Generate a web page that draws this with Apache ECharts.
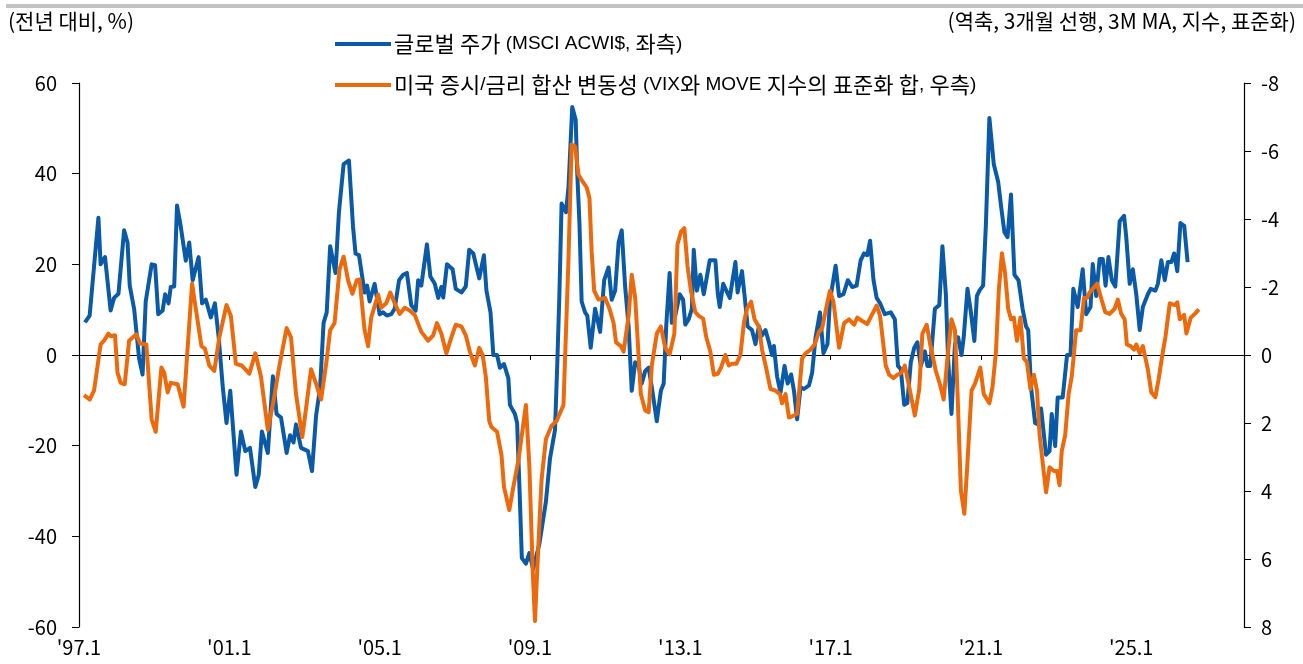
<!DOCTYPE html>
<html>
<head>
<meta charset="utf-8">
<script src="https://cdn.jsdelivr.net/npm/echarts@6/dist/echarts.min.js"></script>
<style>
  html, body { margin: 0; padding: 0; background: #fff; }
  #chart { width: 1303px; height: 664px; }
</style>
</head>
<body>
<div id="chart"></div>
<script>
// x 값은 '97.1 부터의 개월 수
var xTickYears = ["'97.1", "'01.1", "'05.1", "'09.1", "'13.1", "'17.1", "'21.1", "'25.1"];

// 글로벌 주가 (MSCI ACWI$, 전년 대비 %)
var blueMonth = [1.9, 3.4, 6.2, 6.9, 8.3, 10.1, 11.2, 12.6, 14.4, 15.5, 16.2, 17.6, 19.2, 20.3, 21.3, 23.2, 24.3, 25.3, 26.7, 27.5,
  28.6, 29.3, 30.4, 31.3, 32.5, 34.1, 35.2, 36.3, 38.2, 39.3, 40.5, 42.1, 43.4, 44.6, 45.9, 47.1, 48.3, 50.3, 51.7, 53.1,
  54.6, 56.3, 57.4, 58.4, 60.3, 61.9, 63.1, 64.5, 66.3, 67.4, 68.5, 69.3, 70.9, 73.1, 74.4, 75.7, 77, 78.1, 79.1, 80.2,
  81.9, 83, 84.5, 86.2, 87.5, 88.3, 89.4, 91.2, 92, 92.8, 94.4, 96, 97.1, 98.3, 99.7, 100.8, 102.2, 103.5, 104.7, 106.1,
  107.5, 108.3, 109.3, 111.1, 112.2, 113.6, 114.7, 115.7, 116.3, 117.5, 119.3, 120.3, 122.1, 123.5, 124.6, 125.9, 127.8, 129.3, 130.1, 131.4,
  132.3, 133.5, 134.4, 135.7, 137.1, 137.6, 139.2, 139.9, 140.8, 141.4, 142.7, 143.8, 145, 147, 149.1, 150.4, 152, 152.7, 153.4, 154.1,
  155.5, 156.3, 157.5, 158.6, 159.1, 159.8, 160.5, 161.6, 162.3, 163.4, 164.8, 166.4, 167.7, 169.1, 170.1, 171.2, 172.3, 173.3, 174.4, 175.5,
  176.5, 177.6, 178.7, 179.7, 180.8, 181.9, 182.9, 184.5, 185.8, 186.7, 187.5, 188.6, 189.3, 190.4, 191.8, 192.9, 193.6, 194.7, 195.7, 196.3,
  197.3, 198.4, 199.5, 200.3, 201.4, 203.2, 204, 204.6, 205.7, 206.7, 207.8, 209.6, 210.3, 211.7, 212.6, 213.5, 214.9, 216, 217.1, 218.1,
  219.2, 220.3, 221.3, 221.9, 222.9, 224, 225.3, 226.3, 227.4, 228.3, 229.3, 230.4, 231.5, 233.1, 234.1, 235.2, 236.6, 237.7, 239, 239.8,
  241.6, 242.7, 244.1, 245.5, 246.9, 248.3, 249.6, 250.7, 251.7, 252.6, 253.7, 254.7, 255.8, 257.3, 259.2, 260.5, 261.5, 262.4, 263.5, 264.5,
  265.6, 266.7, 267.7, 268.8, 270.1, 270.9, 271.8, 273.3, 274.7, 275.7, 276.8, 277.5, 278.6, 279.7, 280.7, 281.8, 282.5, 283.7, 284.8, 285.9,
  286.7, 287.5, 288.7, 289.6, 290.7, 292.1, 293.5, 294.4, 295.5, 296.5, 297.6, 298.7, 300, 301.3, 302.4, 303.1, 304, 305.3, 306.1, 307.2,
  308.8, 309.9, 310.6, 311.7, 312.5, 314.1, 315.5, 316.6, 317.5, 318.9, 320.5, 321.6, 323, 323.7, 324.8, 325.9, 326.9, 327.8, 328.7, 329.8,
  330.9, 332.3, 333.7, 334.4, 335.5, 336.5, 337.6, 338.7, 339.7, 341.3, 342.2, 343.7, 344.5, 345.6, 346.7, 347.7, 348.8, 349.7, 350.7, 351.7,
  352.9, 354];
var blueValue = [7.2, 8.7, 30.3, 20, 21.6, 9.8, 12.6, 13.5, 27.5, 24.8, 15.3, 10.2, -0.8, -4.3, 11.8, 20, 19.8, 9, 9.8, 13.4,
  11.4, 15, 15.1, 33, 28.3, 20.8, 24.8, 16.5, 21.6, 11.4, 12.2, 8.3, 11.4, 3.9, -7, -15, -7.9, -26.4, -16.9, -21.2,
  -20.5, -29.1, -26.4, -16.9, -21.6, -4.7, -13, -13.8, -21.6, -17.7, -19.3, -15.3, -20.5, -21.2, -25.6, -13.4, -7.1, 7.1, 9.4, 24,
  18.1, 31.5, 42.1, 42.9, 28.3, 22.4, 22, 13.8, 15.3, 11.8, 15.7, 9, 9.4, 8.7, 9, 10.2, 16.5, 17.7, 18.1, 11,
  9.8, 16.5, 15.3, 24.4, 17.3, 15.7, 12.6, 15, 12.7, 20, 18.9, 14.6, 13.8, 15.1, 23.2, 22.4, 16.9, 22, 14.2, 9.4,
  0, 0, -2.8, -2, -5.1, -11, -13, -15, -32.3, -44.8, -46, -43.7, -47.2, -41.7, -32.3, -22.8, -16.5, -2.4, 13.4, 33.4,
  31.5, 37, 54.7, 51.9, 40.1, 29.1, 11.8, 9.4, 8.7, 1.6, 10.2, 5.1, 16.5, 19.3, 12.2, 14.2, 24.8, 27.5, 15, 6.3,
  -7.9, -1.6, -2.4, -6.3, -3.5, -2.8, -7.1, -14.6, -7.9, -6.3, 6.3, 18.1, 7.1, 8.7, 13.4, 12.2, 6.7, 7.9, 10.2, 23.2,
  14.2, 17.7, 13.4, 16.5, 20.9, 20.9, 13.4, 10.6, 15.7, 14.2, 12.6, 20.5, 13.8, 18.5, 12.6, 6.3, 5.5, 2.4, 6.3, 4.3,
  5.5, 2.8, 0, 2, -4.7, -8.3, -2.4, -6.3, -4.3, -7.9, -14.2, -7.1, -7.5, -6.7, -3.9, 3.9, 9.4, 0.4, 2.4, 12,
  19.7, 13, 13.4, 16.5, 15, 15.3, 20.9, 22.4, 22, 25.2, 16.5, 12.6, 11.4, 9, 9.4, 7.9, -2.4, -3.1, -11, -10.6,
  -1.6, 1.6, 2.8, -2.4, 0.8, -2.4, -2.4, 10.2, 11, 24, 13.4, -0.8, -13, 2.4, 3.9, 0, 3.9, 14.6, 9.4, 3.1,
  13, 14.2, 15.3, 29.1, 52.3, 42.1, 38.2, 33, 27.1, 26, 35.4, 17.7, 16.5, 10.2, 6.3, 5.5, -7.1, -15, -15.3, -11.8,
  -22, -21.2, -13, -20.1, -9.4, -9.4, 0, 0, 14.6, 10.6, 18.9, 9, 10.6, 20.1, 13, 21.2, 21.2, 15.3, 21.6, 16.5,
  15.1, 29.5, 30.7, 26, 15.7, 18.9, 13.4, 5.5, 10.6, 13.4, 14.6, 14.2, 15.7, 20.9, 16.5, 20.5, 20.5, 22.4, 18.5, 29.1,
  28.5, 20.5];

// 미국 증시/금리 합산 변동성 (VIX와 MOVE 지수의 표준화 합, 역축)
var orangeMonth = [1.6, 3.4, 4.8, 6.9, 8, 9.4, 10.1, 11.5, 12.3, 13.3, 14.6, 16, 18.3, 19.5, 21.5, 23.2, 24.5, 26.3, 27.2, 28.3,
  29.3, 31.5, 33.4, 36.1, 37.3, 39.1, 40.2, 41.6, 43.2, 44.8, 47.1, 48.5, 50.1, 52, 54.4, 56.3, 58.1, 60.3, 62.1, 64,
  66.3, 67.7, 69.3, 71.3, 72.5, 74.1, 75.7, 77.3, 79, 80.2, 81.6, 83.2, 84.5, 85.9, 87.3, 88.7, 89.6, 91.2, 92.3, 93.3,
  95.5, 96.5, 98.1, 99.4, 100.8, 102.4, 104, 105.6, 107.2, 109.3, 111.5, 113.1, 114.3, 115.7, 117.3, 118.9, 120.3, 122.1, 123.5, 124.8,
  126.4, 127.8, 128.9, 129.9, 131, 131.7, 133.5, 134.9, 135.7, 137.4, 138.7, 140.3, 142.7, 143.8, 144.9, 145.6, 146.7, 147.7, 149.1, 150.9,
  152.5, 154.7, 156.3, 157.3, 158.4, 159.5, 160.9, 162.1, 163, 163.7, 164.5, 165.9, 168, 169.4, 170.7, 171.5, 173, 173.9, 175.5, 176.5,
  177.6, 178.7, 179.4, 180.8, 181.9, 182.9, 184.5, 185.8, 187.2, 188.6, 190.1, 191.1, 192.2, 193.3, 194.3, 195.4, 196.8, 197.9, 199.3, 200.3,
  201.6, 202.7, 204, 205, 206.4, 207.5, 208.5, 209.9, 211.2, 212.3, 213.3, 214.6, 215.7, 217.1, 218.1, 219.5, 220.8, 222.4, 223.8, 224.5,
  225.6, 226.7, 228.3, 229.3, 230.9, 232, 233.6, 234.9, 236.3, 237.3, 238.4, 239.8, 240.9, 242.7, 244.3, 245.9, 247.5, 248.5, 250.1, 251.7,
  253, 254.7, 255.8, 257.6, 258.7, 260.1, 261.3, 262.6, 263.7, 265.1, 266.9, 268.3, 269.3, 270.7, 271.8, 273.6, 275, 276.1, 277.3, 278.6,
  279.7, 280.5, 281.6, 282.7, 283.7, 285, 286.1, 287.8, 288.9, 290.7, 291.7, 292.8, 293.7, 294.7, 295.7, 296.7, 297.6, 298.5, 299.5, 300.6,
  301.7, 302.7, 303.8, 304.9, 305.9, 306.7, 307.7, 308.8, 309.9, 311.3, 312.3, 313.1, 313.8, 314.9, 316, 317, 318.4, 319.8, 320.9, 321.9,
  322.7, 324.1, 325.1, 326.2, 327.7, 329.1, 330.7, 331.7, 332.8, 333.9, 334.6, 335.8, 336.9, 337.6, 338.7, 339.7, 341.3, 342.4, 343.7, 344.7,
  346.1, 346.9, 348.3, 348.8, 349.9, 350.7, 351.5, 352.9, 353.6, 355, 356.3, 357.6];
var orangeValue = [1.18, 1.31, 1.05, -0.31, -0.42, -0.63, -0.55, -0.58, 0.52, 0.82, 0.86, -0.42, -0.61, -0.34, -0.31, 1.89, 2.26, 0.37, 0.52, 1.1,
  0.82, 0.86, 1.52, -2.1, -1.36, -0.26, -0.19, 0.31, 0.47, -0.52, -1.47, -1.15, 0.26, 0.31, 0.55, -0.05, 0.63, 2.2, 1.36, 0.31,
  -0.79, -0.52, 1.15, 2.41, 1.57, 0.42, 0.84, 1.31, 0.21, -0.73, -0.94, -2.52, -2.89, -2.2, -1.8, -2.2, -2.22, -0.73, -0.26, -1.1,
  -1.78, -1.39, -1.52, -1.84, -1.52, -1.21, -1.39, -1.31, -1.18, -0.68, -0.42, -0.58, -0.94, -0.63, -0.05, -0.52, -0.89, -0.84, -0.58, -0.1,
  0.31, -0.21, 0, 0.63, 1.94, 2.12, 2.26, 2.94, 3.88, 4.56, 3.88, 3.1, 1.47, 3.25, 6.4, 7.82, 5.56, 3.67, 2.47, 2.08,
  1.94, 1.47, -2.83, -6.19, -6.14, -5.3, -5.09, -4.93, -4.62, -3.04, -1.89, -1.63, -1.68, -1.36, -0.94, -0.37, -0.26, -0.1, -1.15, -2.36,
  -1.68, 0.05, 1.15, 1.63, 1.68, 0.31, -0.63, -0.84, -0.21, -0.02, -0.63, -3.25, -3.62, -3.73, -2.62, -1.89, -1.26, -1.15, -1.07, -0.52,
  -0.1, 0.58, 0.55, 0.37, 0, 0.31, 0.26, 0.26, 0, -0.94, -1.36, -1.57, -1.05, -0.84, -0.16, 0.42, 1, 1.05, 1.15, 1.42,
  1.15, 1.84, 1.78, 1.73, 0.1, -0.05, -0.16, -0.31, -0.68, -0.79, -1.3, -1.89, -1.57, -0.21, -0.94, -1.05, -0.89, -1.1, -1, -0.91,
  -1.15, -1.45, -1.15, 0.31, 0.58, 0.68, 0.58, 0.52, 0.31, 0.94, 1.78, 1, -0.63, -0.89, -0.31, 0.47, 0.89, 1.31, 0.1, -1.05,
  -0.73, 1.05, 3.99, 4.67, 3.15, 1.05, 0.84, 0.37, 1.15, 1.42, 0.94, -0.1, -1.89, -2.99, -2.41, -1.36, -1.05, -1.1, -0.42, -1.1,
  0.1, 0.21, 1, 0.58, 1.05, 2.31, 3.15, 4.04, 3.3, 3.41, 3.41, 3.83, 2.83, 2.36, 1.15, 0.63, -0.73, -0.73, -1.68, -1.68,
  -1.84, -1.99, -2.1, -1.73, -1.26, -1.21, -1.36, -1.63, -1.21, -1.05, -0.31, -0.26, -0.16, -0.31, -0.05, -0.26, 0.42, 1.1, 1.24, 0.73,
  -0.1, -0.52, -1.52, -1.57, -1.47, -1.55, -1.05, -1.18, -0.63, -1.1, -1.21, -1.34];

var leftTicks = [-60, 60, 20];
var rightTicks = [-8, 8, 2];

var BLUE = '#0a5aa8';
var ORANGE = '#ec6a0c';
var FONT = "'Liberation Sans Narrow', 'Noto Sans CJK KR', sans-serif";
var LATIN = "'Liberation Sans', Arial, sans-serif";
var HANGUL = "'Noto Sans CJK KR', sans-serif";

function pairs(xs, ys) {
  return xs.map(function (x, i) { return [x, ys[i]]; });
}

// 범례: 한글은 크게, 영문은 좁게 (원본 글꼴 폭 맞추기)
function legendText(name) {
  return name.replace(/([가-힣]+)/g, '{k|$1}');
}

var chart = echarts.init(document.getElementById('chart'));

var option = {
  animation: false,
  backgroundColor: '#fff',
  textStyle: { fontFamily: FONT, color: '#000' },
  grid: { left: 79, right: 59, top: 83, bottom: 37 },
  graphic: [
    { type: 'rect', left: 6, top: 4, shape: { width: 1297, height: 4 }, style: { fill: '#c3c3c3' } },
    { type: 'text', left: 8, top: 11, style: { text: '(전년 대비, %)', font: '21px ' + FONT, fill: '#000' } },
    { type: 'text', right: 7, top: 11, style: { text: '(역축, 3개월 선행, 3M MA, 지수, 표준화)', font: '21px ' + FONT, fill: '#000' } }
  ],
  legend: {
    orient: 'vertical',
    left: 330,
    top: 28,
    itemWidth: 56,
    itemHeight: 4,
    itemGap: 19,
    icon: 'rect',
    formatter: legendText,
    textStyle: {
      fontFamily: LATIN, fontSize: 19, color: '#000', padding: [0, 0, 0, -2],
      rich: { k: { fontFamily: HANGUL, fontSize: 22, color: '#000' } }
    },
    data: ['글로벌 주가 (MSCI ACWI$, 좌측)', '미국 증시/금리 합산 변동성 (VIX와 MOVE 지수의 표준화 합, 우측)']
  },
  xAxis: [
    {
      type: 'value', min: 0, max: 372, interval: 48,
      axisLine: { onZero: true, lineStyle: { color: '#000', width: 1.2 } },
      axisTick: { show: true, length: 5, lineStyle: { color: '#000' } },
      axisLabel: { show: false },
      splitLine: { show: false }
    },
    {
      type: 'value', min: 0, max: 372, interval: 48, position: 'bottom',
      axisLine: { show: false, onZero: false },
      axisTick: { show: false },
      axisLabel: {
        margin: 10, fontSize: 20, color: '#000', fontFamily: FONT,
        formatter: function (v) { return xTickYears[Math.round(v / 48)] || ''; }
      },
      splitLine: { show: false }
    }
  ],
  yAxis: [
    {
      type: 'value', min: leftTicks[0], max: leftTicks[1], interval: leftTicks[2], position: 'left',
      axisLine: { show: true, lineStyle: { color: '#000', width: 1.2 } },
      axisTick: { show: true, length: 7, lineStyle: { color: '#000' } },
      axisLabel: { margin: 22, fontSize: 20, color: '#000', fontFamily: FONT },
      splitLine: { show: false }
    },
    {
      type: 'value', min: rightTicks[0], max: rightTicks[1], interval: rightTicks[2], position: 'right', inverse: true,
      axisLine: { show: true, onZero: false, lineStyle: { color: '#000', width: 1.2 } },
      axisTick: { show: true, length: 7, lineStyle: { color: '#000' } },
      axisLabel: { margin: 17, fontSize: 20, color: '#000', fontFamily: FONT },
      splitLine: { show: false }
    }
  ],
  series: [
    {
      name: '글로벌 주가 (MSCI ACWI$, 좌측)',
      type: 'line', xAxisIndex: 0, yAxisIndex: 0,
      showSymbol: false, color: BLUE,
      lineStyle: { width: 4, color: BLUE, join: 'round' },
      data: pairs(blueMonth, blueValue)
    },
    {
      name: '미국 증시/금리 합산 변동성 (VIX와 MOVE 지수의 표준화 합, 우측)',
      type: 'line', xAxisIndex: 0, yAxisIndex: 1,
      showSymbol: false, color: ORANGE,
      lineStyle: { width: 4, color: ORANGE, join: 'round' },
      data: pairs(orangeMonth, orangeValue)
    }
  ]
};

chart.setOption(option);
</script>
</body>
</html>
